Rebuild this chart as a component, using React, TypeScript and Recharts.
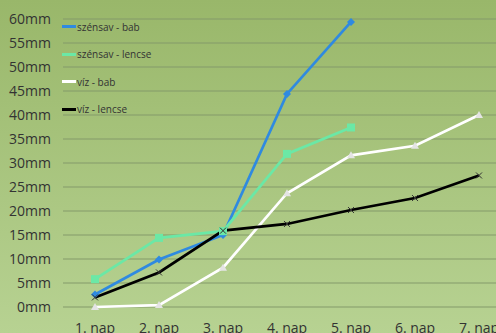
import { LineChart, Line, XAxis, YAxis, CartesianGrid } from 'recharts'

const days = ['1. nap', '2. nap', '3. nap', '4. nap', '5. nap', '6. nap', '7. nap']
const szensavBab = [2.6, 9.9, 15.0, 44.4, 59.4, null, null]
const szensavLencse = [5.8, 14.4, 15.8, 31.9, 37.4, null, null]
const vizBab = [0, 0.4, 8.2, 23.7, 31.6, 33.6, 40.0]
const vizLencse = [2.0, 7.2, 15.9, 17.3, 20.2, 22.7, 27.4]
const yTicks = [0, 5, 10, 15, 20, 25, 30, 35, 40, 45, 50, 55, 60]

const series = [
  { key: 'sb', name: 'szénsav - bab', color: '#2f8ae0' },
  { key: 'sl', name: 'szénsav - lencse', color: '#6be8a6' },
  { key: 'vb', name: 'víz - bab', color: '#ffffff' },
  { key: 'vl', name: 'víz - lencse', color: '#000000' },
]

const data = days.map((d, i) => ({
  day: d,
  sb: szensavBab[i],
  sl: szensavLencse[i],
  vb: vizBab[i],
  vl: vizLencse[i],
}))

const font = 'Open Sans, Liberation Sans, sans-serif'

const dots: Record<string, (p: any) => any> = {
  sb: (p) => p.value == null ? <g key={p.index} /> : <path key={p.index} d={`M${p.cx},${p.cy - 4}L${p.cx + 4},${p.cy}L${p.cx},${p.cy + 4}L${p.cx - 4},${p.cy}Z`} fill="#2f8ae0" />,
  sl: (p) => p.value == null ? <g key={p.index} /> : <rect key={p.index} x={p.cx - 4} y={p.cy - 4} width={8} height={8} fill="#6be8a6" />,
  vb: (p) => <path key={p.index} d={`M${p.cx - 4},${p.cy + 3}L${p.cx + 4},${p.cy + 3}L${p.cx},${p.cy - 4}Z`} fill="#e4e4e4" />,
  vl: (p) => <path key={p.index} d={`M${p.cx - 3},${p.cy - 3}L${p.cx + 3},${p.cy + 3}M${p.cx - 3},${p.cy + 3}L${p.cx + 3},${p.cy - 3}`} stroke="#333" strokeWidth={1} />,
}

export default function App() {
  return (
    <div style={{ position: 'fixed', left: 0, top: 0, width: 496, height: 333, overflow: 'hidden', background: 'linear-gradient(#99b76a, #b7d292)' }}>
      <LineChart width={540} height={350} data={data} margin={{ top: 19, right: 29, left: 0, bottom: 10 }}>
        <CartesianGrid vertical={false} stroke="#84996a" strokeWidth={1.2} />
        <XAxis dataKey="day" axisLine={false} tickLine={false} padding={{ left: 32, right: 32 }} interval={0}
          tick={{ fontSize: 14, fill: '#333', fontFamily: font }} dy={8} height={33} />
        <YAxis domain={[0, 60]} ticks={yTicks} axisLine={false} tickLine={false} width={63} interval={0}
          tickFormatter={(v) => `${v}mm`} tick={{ fontSize: 14, fill: '#333', fontFamily: font }} dx={-4} />
        {series.map((s) => (
          <Line key={s.key} name={s.name} dataKey={s.key} stroke={s.color} strokeWidth={2.7}
            isAnimationActive={false} dot={dots[s.key]} />
        ))}
      </LineChart>
      <div style={{ position: 'absolute', left: 62, top: 13, fontFamily: font, fontSize: 10, color: '#333' }}>
        {series.map((s) => (
          <div key={s.key} style={{ height: 27.5, display: 'flex', alignItems: 'center' }}>
            <span style={{ display: 'inline-block', width: 14, height: 3, background: s.color, marginRight: 1 }} />
            <span>{s.name}</span>
          </div>
        ))}
      </div>
    </div>
  )
}
